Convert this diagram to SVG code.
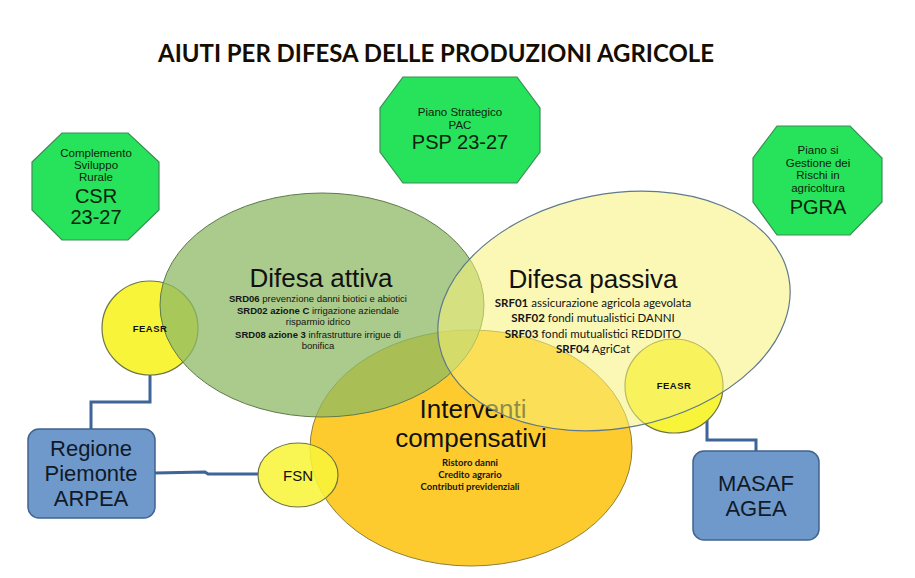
<svg xmlns="http://www.w3.org/2000/svg" width="915" height="578" viewBox="0 0 915 578">
<style>
.oct{fill:#27E35B;stroke:#3C8C55;stroke-width:1.2}
.ot{font-family:"Liberation Sans",Arial,sans-serif;fill:#0D220D;text-anchor:middle}
.sm{font-size:11.5px}
.bg{font-size:20px}
.box{fill:#6F98CB;stroke:#40638F;stroke-width:1.5}
.bt{font-family:"Liberation Sans",Arial,sans-serif;font-size:22px;fill:#101A28;text-anchor:middle}
.ball{fill:#F8F43A;stroke:#6E7446;stroke-width:1.2}
.fl{font-family:"Liberation Sans",Arial,sans-serif;font-size:9.5px;font-weight:bold;fill:#111;text-anchor:middle;letter-spacing:0.5px}
.conn{fill:none;stroke:#3D6598;stroke-width:3}
.h{font-family:"Liberation Sans",Arial,sans-serif;font-size:26px;fill:#111;text-anchor:middle}
.s1{font-family:"Liberation Sans",Arial,sans-serif;font-size:9.5px;fill:#151515;text-anchor:middle}
.s2{font-family:Lato,"Liberation Sans",sans-serif;font-size:11.5px;fill:#151515;text-anchor:middle}
.s3{font-family:Lato,"Liberation Sans",sans-serif;font-size:9.5px;font-weight:bold;fill:#151515;text-anchor:middle}
.b{font-weight:bold}
</style>
<rect width="915" height="578" fill="#FFFFFF"/>
<text x="436" y="62" font-family="Lato,'Liberation Sans',sans-serif" font-size="24" font-weight="bold" fill="#140D00" text-anchor="middle" textLength="556" lengthAdjust="spacingAndGlyphs">AIUTI PER DIFESA DELLE PRODUZIONI AGRICOLE</text>

<g id="csr">
<polygon class="oct" points="62,133 128,133 159,162 159,210 128,240 62,240 32,210 32,162"/>
<text class="ot sm" x="96" y="157">Complemento</text>
<text class="ot sm" x="96" y="169">Sviluppo</text>
<text class="ot sm" x="96" y="181">Rurale</text>
<text class="ot bg" x="96" y="203">CSR</text>
<text class="ot bg" x="96" y="224">23-27</text>
</g>
<g id="psp">
<polygon class="oct" points="403,77 517,77 540,108 540,152 517,183 403,183 380,152 380,108"/>
<text class="ot sm" x="460" y="116">Piano Strategico</text>
<text class="ot sm" x="460" y="129">PAC</text>
<text class="ot bg" x="460" y="149">PSP 23-27</text>
</g>
<g id="pgra">
<polygon class="oct" points="777,126 850,126 882,158 882,202 850,235 777,235 753,202 753,158"/>
<text class="ot sm" x="818" y="154">Piano si</text>
<text class="ot sm" x="818" y="167">Gestione dei</text>
<text class="ot sm" x="818" y="179">Rischi in</text>
<text class="ot sm" x="818" y="192">agricoltura</text>
<text class="ot bg" x="818" y="214">PGRA</text>
</g>

<g id="connectors">
<path class="conn" d="M150,375 L150,402 L91,402 L91,429"/>
<path class="conn" d="M155,473 L205,472 L208,474 L259,474"/>
<path class="conn" d="M707,419 L707,440 L756,440 L756,451"/>
</g>

<g id="feasr-left">
<ellipse class="ball" cx="150" cy="328" rx="48" ry="47"/>
</g>
<g id="feasr-right">
<ellipse class="ball" cx="674" cy="386" rx="49" ry="47"/>
</g>

<g id="interventi">
<ellipse cx="471" cy="448" rx="161" ry="118" fill="#FECB2E" stroke="#8A8040" stroke-width="1"/>
<text class="h" x="473" y="418">Interventi</text>
<text class="h" x="471" y="447">compensativi</text>
<text class="s3" x="470" y="466">Ristoro danni</text>
<text class="s3" x="470" y="478">Credito agrario</text>
<text class="s3" x="470" y="490">Contributi previdenziali</text>
</g>

<g id="fsn">
<ellipse cx="298" cy="475" rx="40" ry="32" fill="#F8F43A" fill-opacity="0.88" stroke="#6E7446" stroke-width="1.2"/>
<text x="298" y="481" font-family="'Liberation Sans',Arial,sans-serif" font-size="15" fill="#111" text-anchor="middle">FSN</text>
</g>

<g id="difesa-attiva">
<ellipse cx="322" cy="305" rx="162" ry="112" fill="#8DB964" fill-opacity="0.75" stroke="#5E7A4C" stroke-width="1"/>
</g>
<g id="difesa-passiva">
<ellipse cx="614" cy="311" rx="178" ry="117" transform="rotate(-11 614 311)" fill="#F8F37A" fill-opacity="0.55" stroke="#5F7A8C" stroke-width="1.2"/>
</g>
<g id="feasr-labels">
<text class="fl" x="150" y="332">FEASR</text>
<text class="fl" x="674" y="389">FEASR</text>
</g>
<g id="difesa-attiva-text">
<text class="h" x="321" y="287">Difesa attiva</text>
<text class="s1" x="318" y="302"><tspan class="b">SRD06</tspan> prevenzione danni biotici e abiotici</text>
<text class="s1" x="318" y="314"><tspan class="b">SRD02 azione C</tspan> irrigazione aziendale</text>
<text class="s1" x="318" y="325">risparmio idrico</text>
<text class="s1" x="318" y="338"><tspan class="b">SRD08 azione 3</tspan> infrastrutture irrigue di</text>
<text class="s1" x="318" y="349">bonifica</text>
</g>
<g id="difesa-passiva-text">
<text class="h" x="593" y="288">Difesa passiva</text>
<text class="s2" x="593" y="307"><tspan class="b">SRF01</tspan> assicurazione agricola agevolata</text>
<text class="s2" x="593" y="322"><tspan class="b">SRF02</tspan> fondi mutualistici DANNI</text>
<text class="s2" x="593" y="338"><tspan class="b">SRF03</tspan> fondi mutualistici REDDITO</text>
<text class="s2" x="593" y="353"><tspan class="b">SRF04</tspan> AgriCat</text>
</g>

<g id="regione">
<rect class="box" x="28" y="429" width="127" height="89" rx="11"/>
<text class="bt" x="91" y="456">Regione</text>
<text class="bt" x="91" y="481">Piemonte</text>
<text class="bt" x="91" y="506">ARPEA</text>
</g>
<g id="masaf">
<rect class="box" x="693" y="451" width="126" height="89" rx="11"/>
<text class="bt" x="756" y="491">MASAF</text>
<text class="bt" x="756" y="516">AGEA</text>
</g>
</svg>
